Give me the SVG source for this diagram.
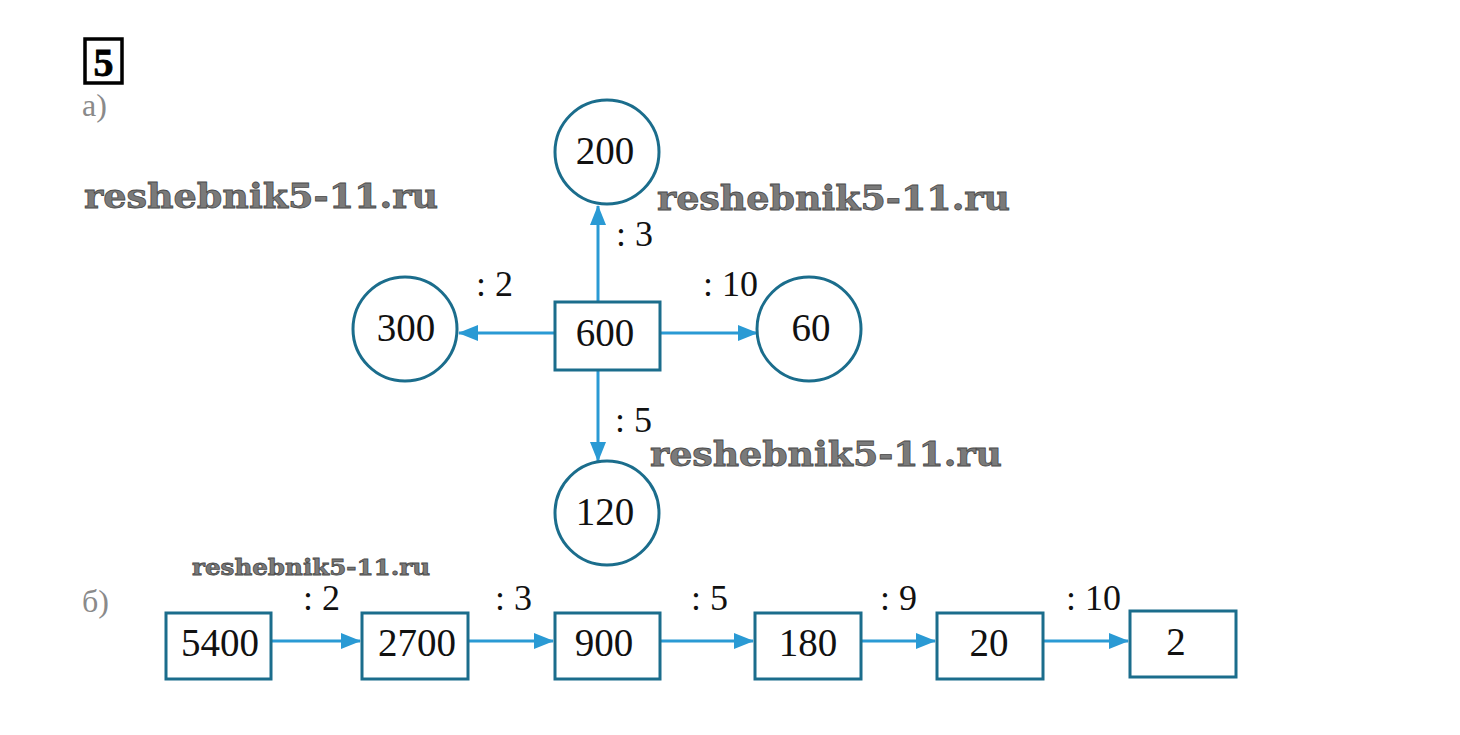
<svg xmlns="http://www.w3.org/2000/svg" width="1460" height="735" viewBox="0 0 1460 735">
<style>
.num{font-family:"Liberation Serif","Times New Roman",serif;font-size:39px;fill:#111;text-anchor:middle}
.lbl{font-family:"Liberation Serif","Times New Roman",serif;font-size:36px;fill:#111}
.part{font-family:"Liberation Serif","Times New Roman",serif;font-size:32px;fill:#8a8a8a}
.node{fill:#fff;stroke:#1b6d8c;stroke-width:3}
.edge{stroke:#2a9ad4;stroke-width:3;fill:none}
.wm{font-family:"DejaVu Serif",serif;font-weight:bold;fill:#7a7a7a;stroke:#4a4a4a;stroke-width:0.8}
</style>
<defs>
<marker id="ah" markerWidth="20" markerHeight="16" refX="19" refY="8" orient="auto" markerUnits="userSpaceOnUse">
<path d="M0,0 L20,8 L0,16 Z" fill="#2a9ad4"/>
</marker>
</defs>
<rect width="1460" height="735" fill="#fff"/>
<g id="title">
<rect x="85" y="39" width="37" height="44" fill="#fff" stroke="#000" stroke-width="3.5"/>
<text x="103.5" y="76" font-family="Liberation Serif,serif" font-weight="900" font-size="40" text-anchor="middle" stroke="#000" stroke-width="0.8">5</text>
</g>
<text class="part" x="82" y="116">а)</text>
<text class="part" x="82" y="612">б)</text>
<g id="watermarks">
<text class="wm" x="84" y="208" font-size="34" textLength="354" lengthAdjust="spacingAndGlyphs">reshebnik5-11.ru</text>
<text class="wm" x="657" y="210" font-size="34" textLength="353" lengthAdjust="spacingAndGlyphs">reshebnik5-11.ru</text>
<text class="wm" x="650" y="466" font-size="34" textLength="352" lengthAdjust="spacingAndGlyphs">reshebnik5-11.ru</text>
<text class="wm" x="192" y="575" font-size="23" textLength="238" lengthAdjust="spacingAndGlyphs">reshebnik5-11.ru</text>
</g>
<g id="connectors">
<line class="edge" x1="598" y1="302" x2="598" y2="206" marker-end="url(#ah)"/>
<line class="edge" x1="598" y1="370" x2="598" y2="461" marker-end="url(#ah)"/>
<line class="edge" x1="555" y1="333" x2="459" y2="333" marker-end="url(#ah)"/>
<line class="edge" x1="660" y1="333" x2="757" y2="333" marker-end="url(#ah)"/>
<line class="edge" x1="272" y1="641" x2="360" y2="641" marker-end="url(#ah)"/>
<line class="edge" x1="469" y1="641" x2="553" y2="641" marker-end="url(#ah)"/>
<line class="edge" x1="661" y1="641" x2="753" y2="641" marker-end="url(#ah)"/>
<line class="edge" x1="862" y1="641" x2="935" y2="641" marker-end="url(#ah)"/>
<line class="edge" x1="1044" y1="641" x2="1128" y2="641" marker-end="url(#ah)"/>
</g>
<g id="labels">
<text class="lbl" x="616" y="246">: 3</text>
<text class="lbl" x="476" y="296">: 2</text>
<text class="lbl" x="703" y="296">: 10</text>
<text class="lbl" x="615" y="432">: 5</text>
<text class="lbl" x="303" y="610">: 2</text>
<text class="lbl" x="495" y="610">: 3</text>
<text class="lbl" x="691" y="610">: 5</text>
<text class="lbl" x="880" y="610">: 9</text>
<text class="lbl" x="1066" y="610">: 10</text>
</g>
<g id="n600"><rect class="node" x="555" y="302" width="105" height="68"/><text class="num" x="605" y="346">600</text></g>
<g id="n200"><circle class="node" cx="607" cy="152" r="52"/><text class="num" x="605" y="164">200</text></g>
<g id="n300"><circle class="node" cx="405" cy="329" r="52"/><text class="num" x="406" y="341">300</text></g>
<g id="n60"><circle class="node" cx="809" cy="329" r="52"/><text class="num" x="811" y="341">60</text></g>
<g id="n120"><circle class="node" cx="607" cy="513" r="52"/><text class="num" x="605" y="525">120</text></g>
<g id="b5400"><rect class="node" x="166" y="613" width="105" height="66"/><text class="num" x="220" y="656">5400</text></g>
<g id="b2700"><rect class="node" x="362" y="613" width="106" height="66"/><text class="num" x="417" y="656">2700</text></g>
<g id="b900"><rect class="node" x="555" y="613" width="105" height="66"/><text class="num" x="604" y="656">900</text></g>
<g id="b180"><rect class="node" x="755" y="613" width="106" height="66"/><text class="num" x="808" y="656">180</text></g>
<g id="b20"><rect class="node" x="937" y="613" width="106" height="66"/><text class="num" x="989" y="656">20</text></g>
<g id="b2"><rect class="node" x="1130" y="611" width="106" height="66"/><text class="num" x="1176" y="655">2</text></g>
</svg>
